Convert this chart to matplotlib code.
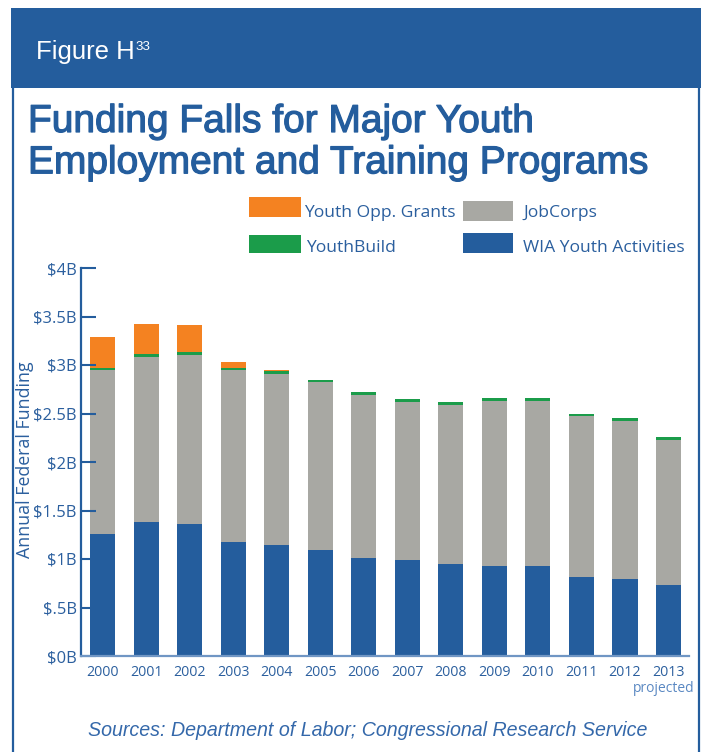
import numpy as np
import matplotlib.pyplot as plt
import matplotlib.patheffects as pe
from matplotlib.patches import Rectangle

plt.rcParams['font.family'] = ['Open Sans', 'DejaVu Sans']

# funding per program, billions of dollars
years = ["2000", "2001", "2002", "2003", "2004", "2005", "2006",
         "2007", "2008", "2009", "2010", "2011", "2012", "2013"]
wia_youth = [1.26, 1.38, 1.36, 1.18, 1.14, 1.09, 1.01, 0.99, 0.95, 0.93, 0.93, 0.81, 0.79, 0.73]
jobcorps = [1.69, 1.70, 1.74, 1.77, 1.77, 1.73, 1.68, 1.63, 1.64, 1.70, 1.70, 1.66, 1.63, 1.50]
youthbuild = [0.02, 0.03, 0.03, 0.02, 0.03, 0.03, 0.03, 0.03, 0.03, 0.03, 0.03, 0.03, 0.03, 0.03]
youth_opp = [0.32, 0.31, 0.28, 0.06, 0.01, 0, 0, 0, 0, 0, 0, 0, 0, 0]

series = [wia_youth, jobcorps, youthbuild, youth_opp]
series_names = ["WIA Youth Activities", "JobCorps", "YouthBuild", "Youth Opp. Grants"]
series_colors = ["#245d9d", "#a8a8a3", "#1b9c4a", "#f48221"]

ytick_vals = [0, 0.5, 1, 1.5, 2, 2.5, 3, 3.5, 4]
ytick_labels = [r"\$0B", r"\$.5B", r"\$1B", r"\$1.5B", r"\$2B",
                r"\$2.5B", r"\$3B", r"\$3.5B", r"\$4B"]

blue = "#245d9d"
txt = "#2b5f9e"

W, H = 707, 752
fig = plt.figure(figsize=(W / 100, H / 100), dpi=100)

# page layer in pixel units
bg = fig.add_axes([0, 0, 1, 1])
bg.set_xlim(0, W)
bg.set_ylim(H, 0)
bg.axis('off')

bg.add_patch(Rectangle((11, 8), 689.5, 80, color=blue, lw=0))
bg.plot([13, 13], [88, H], color=blue, lw=1.6, solid_capstyle='butt')
bg.plot([699, 699], [88, H], color=blue, lw=1.6, solid_capstyle='butt')

bg.text(36, 59.3, "Figure H", color="white", fontsize=18.5,
        family="Liberation Sans", va="baseline")
bg.text(135, 40.5, "33", color="white", fontsize=9.6,
        family="Liberation Sans", va="top")

title_fx = [pe.withStroke(linewidth=0.9, foreground=blue)]
bg.text(28, 132, "Funding Falls for Major Youth", color=blue, fontsize=28,
        family="Liberation Sans", va="baseline", path_effects=title_fx)
bg.text(28, 173.3, "Employment and Training Programs", color=blue, fontsize=28,
        family="Liberation Sans", va="baseline", path_effects=title_fx)

# legend boxes
legend_spots = {
    "Youth Opp. Grants": ((249, 197, 52, 20), (304.5, 217)),
    "JobCorps": ((463, 201, 50, 20), (523.5, 217)),
    "YouthBuild": ((249, 235, 52, 18), (306.5, 252.5)),
    "WIA Youth Activities": ((463, 233, 50, 20), (523, 251.5)),
}
for name, color in zip(series_names, series_colors):
    (rx, ry, rw, rh), (tx, ty) = legend_spots[name]
    bg.add_patch(Rectangle((rx, ry), rw, rh, color=color, lw=0))
    bg.text(tx, ty, name, color=txt, fontsize=12.6, va="baseline")

bg.text(25, 459.5, "Annual Federal Funding", rotation=90, color=txt,
        fontsize=12.8, ha="center", va="center")
bg.text(663.5, 688, "projected", color="#5a88c2", fontsize=10,
        ha="center", va="center")
bg.text(88, 736.5, "Sources: Department of Labor; Congressional Research Service",
        color="#3468aa", fontsize=14.1, family="Liberation Sans",
        style="italic", va="baseline")

# stacked bars
ax = fig.add_axes([81 / W, 1 - 656 / H, 608 / W, 388 / H])
ax.patch.set_alpha(0)
x = np.arange(len(years))
bottom = np.zeros(len(years))
for vals, color, name in zip(series, series_colors, series_names):
    ax.bar(x, vals, 0.575, bottom=bottom, color=color, lw=0, label=name)
    bottom += np.array(vals)

ax.set_xlim(-0.494, 13.47)
ax.set_ylim(0, 4)
ax.set_yticks(ytick_vals, ytick_labels)
ax.set_xticks(x, years)
for s in ["top", "right"]:
    ax.spines[s].set_visible(False)
ax.spines["left"].set_color(blue)
ax.spines["left"].set_linewidth(1.6)
ax.spines["bottom"].set_color("#7096c4")
ax.spines["bottom"].set_linewidth(1.6)
ax.tick_params(axis="y", direction="in", length=10.8, width=1.5, color=blue,
               pad=3, labelsize=12, labelcolor=txt)
ax.tick_params(axis="x", length=0, pad=6.5, labelsize=10.2, labelcolor=txt)

fig.savefig("out.png", dpi=100)
